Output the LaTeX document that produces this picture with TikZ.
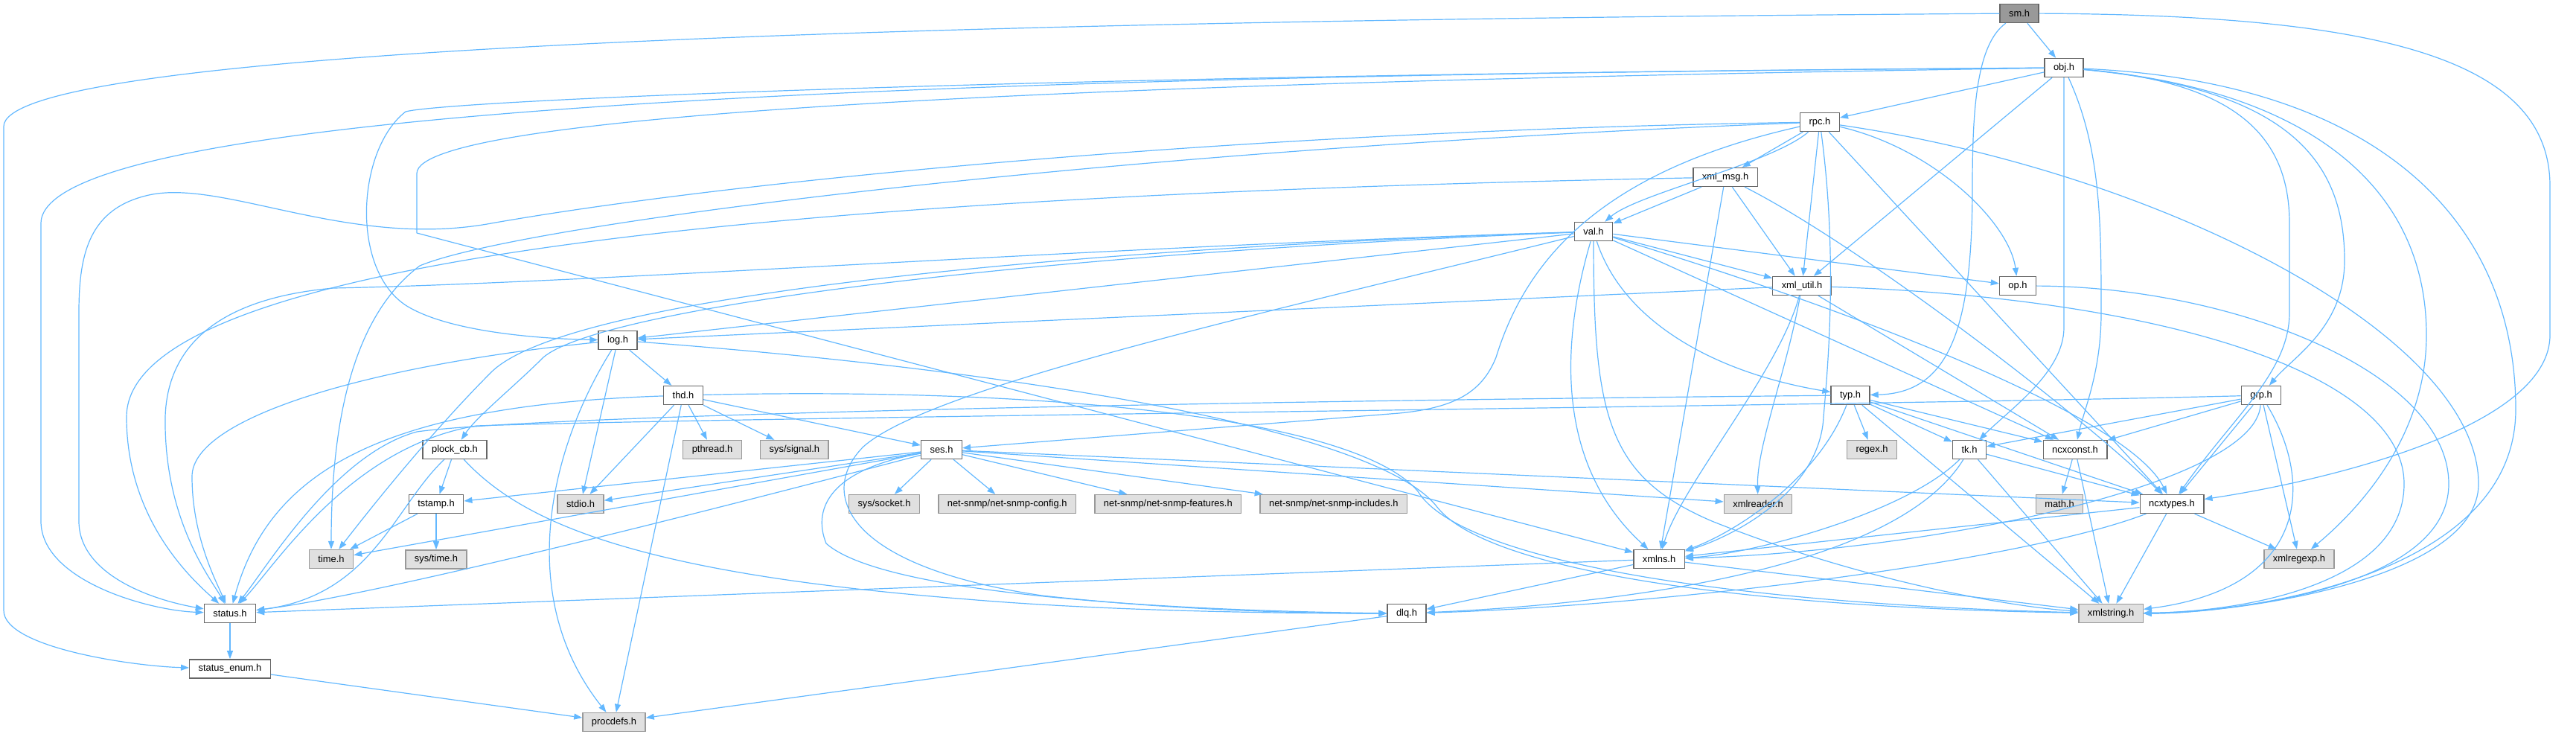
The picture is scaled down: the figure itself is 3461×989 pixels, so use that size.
\documentclass[tikz,border=0pt]{standalone}
\usepackage{fontspec}
\setmainfont{Liberation Sans}
\usepackage{tikz}
\usetikzlibrary{arrows.meta, positioning}
\usepackage{xcolor}
\definecolor{EdgeBlue}{HTML}{63B8FF}
\definecolor{BoxBorder}{HTML}{666666}
\definecolor{SysBorder}{HTML}{999999}
\definecolor{SysFill}{HTML}{E0E0E0}
\definecolor{RootFill}{HTML}{999999}
\newcommand{\graphfont}{\fontsize{12.9}{15}\selectfont}
\tikzset{%
  file_block/.style={%
    rectangle,%
    draw=BoxBorder,%
    fill=white,%
    line width=1.4pt,%
    minimum height=25pt,%
    inner xsep=12pt,%
    inner ysep=0pt,%
    font=\graphfont,%
  },
  sys_block/.style={%
    file_block,%
    draw=SysBorder,%
    fill=SysFill,%
  },
  root_block/.style={%
    file_block,%
    fill=RootFill,%
  },
  dep_path/.style={%
    color=EdgeBlue,%
    line width=1.2pt,%
    line join=round,%
  },
  arrow/.style={-{Triangle[length=11pt, width=8pt]}},
}
\begin{document}
\begin{tikzpicture}[x=1pt, y=1pt]
  \useasboundingbox (0,0) rectangle (3461,-989);

  \node [root_block] (sm) at (2713,-18) {sm.h};
  \node [file_block] (obj) at (2773,-91) {obj.h};
  \node [file_block] (rpc) at (2445,-164) {rpc.h};
  \node [file_block] (xml_msg) at (2318,-238) {xml\_msg.h};
  \node [file_block] (val) at (2141,-311) {val.h};
  \node [file_block] (xml_util) at (2421,-384) {xml\_util.h};
  \node [file_block] (op) at (2711,-384) {op.h};
  \node [file_block] (log) at (830,-457) {log.h};
  \node [file_block] (thd) at (918,-531) {thd.h};
  \node [file_block] (typ) at (2486,-531) {typ.h};
  \node [file_block] (grp) at (3038,-531) {grp.h};
  \node [file_block] (plock_cb) at (611,-604) {plock\_cb.h};
  \node [sys_block] (pthread) at (957,-604) {pthread.h};
  \node [sys_block, right = 24 of pthread] (sys_signal) {sys/signal.h};
  \node [file_block] (ses) at (1265,-604) {ses.h};
  \node [sys_block] (regex) at (2515,-604) {regex.h};
  \node [file_block] (tk) at (2646,-604) {tk.h};
  \node [file_block] (ncxconst) at (2788,-604) {ncxconst.h};
  \node [file_block] (tstamp) at (586,-677) {tstamp.h};
  \node [sys_block] (stdio) at (780,-677) {stdio.h};
  \node [sys_block] (sys_socket) at (1188,-677) {sys/socket.h};
  \node [sys_block, right = 24 of sys_socket] (snmp_config) {net-snmp/net-snmp-config.h};
  \node [sys_block, right = 24 of snmp_config] (snmp_features) {net-snmp/net-snmp-features.h};
  \node [sys_block, right = 24 of snmp_features] (snmp_includes) {net-snmp/net-snmp-includes.h};
  \node [sys_block] (xmlreader) at (2362,-677) {xmlreader.h};
  \node [sys_block] (math) at (2767,-677) {math.h};
  \node [file_block] (ncxtypes) at (2918,-677) {ncxtypes.h};
  \node [sys_block] (time) at (445,-751) {time.h};
  \node [sys_block, below = 48 of tstamp] (sys_time) {sys/time.h};
  \node [file_block] (xmlns) at (2229,-751) {xmlns.h};
  \node [sys_block] (xmlregexp) at (3089,-751) {xmlregexp.h};
  \node [file_block] (status) at (309,-824) {status.h};
  \node [file_block] (dlq) at (1890,-824) {dlq.h};
  \node [sys_block] (xmlstring) at (2836,-824) {xmlstring.h};
  \node [file_block, below = 48 of status] (status_enum) {status\_enum.h};
  \node [sys_block] (procdefs) at (825,-970) {procdefs.h};

  % sm.h
  \draw [arrow, dep_path] (sm) -- (obj);
  \draw [arrow, dep_path]
    (sm) .. controls (900,-30) and (5,-80) .. (5,-170)
    -- (5,-820) .. controls (5,-870) and (180,-895) .. (status_enum);
  \draw [arrow, dep_path]
    (sm) .. controls (3200,-20) and (3426,-80) .. (3426,-250)
    -- (3426,-450) .. controls (3426,-580) and (3100,-650) .. (ncxtypes);
  \draw [arrow, dep_path]
    (sm) .. controls (2655,-60) and (2650,-150) .. (2650,-250)
    .. controls (2650,-440) and (2620,-528) .. (typ);

  % obj.h
  \draw [arrow, dep_path] (obj) -- (rpc);
  \draw [arrow, dep_path] (obj) -- (xml_util);
  \draw [arrow, dep_path]
    (obj) .. controls (2773,-250) and (2773,-430) .. (2773,-440)
    .. controls (2773,-500) and (2700,-550) .. (tk);
  \draw [arrow, dep_path]
    (obj) .. controls (2823,-200) and (2823,-300) .. (2823,-420)
    .. controls (2823,-500) and (2800,-550) .. (ncxconst);
  \draw [arrow, dep_path]
    (obj) .. controls (3000,-110) and (3076,-180) .. (3076,-300)
    -- (3076,-420) .. controls (3076,-500) and (3000,-560) .. (ncxtypes);
  \draw [arrow, dep_path]
    (obj) .. controls (3080,-120) and (3150,-220) .. (3150,-350)
    .. controls (3150,-440) and (3080,-480) .. (grp);
  \draw [arrow, dep_path]
    (obj) .. controls (3100,-120) and (3260,-250) .. (3260,-450)
    .. controls (3260,-600) and (3150,-700) .. (xmlregexp);
  \draw [arrow, dep_path]
    (obj) .. controls (3200,-110) and (3380,-300) .. (3380,-550)
    .. controls (3380,-780) and (3000,-824) .. (xmlstring);
  \draw [arrow, dep_path]
    (obj) .. controls (1500,-100) and (55,-130) .. (55,-300)
    -- (55,-700) .. controls (55,-780) and (200,-820) .. (status);
  \draw [arrow, dep_path]
    (obj) .. controls (1400,-100) and (600,-135) .. (545,-150)
    .. controls (480,-200) and (470,-360) .. (545,-410)
    .. controls (600,-445) and (720,-455) .. (log);
  \draw [arrow, dep_path]
    (obj) .. controls (1500,-110) and (560,-150) .. (560,-233)
    -- (560,-313) -- (xmlns);

  % rpc.h
  \draw [arrow, dep_path] (rpc) -- (xml_msg);
  \draw [arrow, dep_path] (rpc) -- (xml_util);
  \draw [arrow, dep_path] (rpc) -- (ncxtypes);
  \draw [arrow, dep_path] (rpc) .. controls (2380,-220) and (2200,-260) .. (val);
  \draw [arrow, dep_path] (rpc) .. controls (2600,-200) and (2700,-300) .. (op);
  \draw [arrow, dep_path]
    (rpc) .. controls (2470,-350) and (2455,-500) .. (2450,-560)
    .. controls (2445,-660) and (2330,-720) .. (xmlns);
  \draw [arrow, dep_path]
    (rpc) .. controls (2900,-230) and (3330,-450) .. (3330,-650)
    .. controls (3330,-780) and (3000,-824) .. (xmlstring);
  \draw [arrow, dep_path]
    (rpc) .. controls (1700,-175) and (1000,-240) .. (660,-300)
    .. controls (470,-335) and (300,-240) .. (200,-262)
    .. controls (120,-280) and (106,-340) .. (106,-420)
    -- (106,-700) .. controls (106,-770) and (200,-805) .. (status);
  \draw [arrow, dep_path]
    (rpc) .. controls (1500,-200) and (700,-300) .. (564,-357)
    .. controls (480,-420) and (445,-550) .. (time);
  \draw [arrow, dep_path]
    (rpc) .. controls (2150,-230) and (2050,-350) .. (2010,-480)
    .. controls (1990,-530) and (1950,-548) .. (1880,-555) -- (ses);

  % xml_msg.h
  \draw [arrow, dep_path] (xml_msg) -- (val);
  \draw [arrow, dep_path] (xml_msg) -- (xml_util);
  \draw [arrow, dep_path] (xml_msg) -- (xmlns);
  \draw [arrow, dep_path] (xml_msg) .. controls (2500,-330) and (2800,-560) .. (ncxtypes);
  \draw [arrow, dep_path]
    (xml_msg) .. controls (1200,-260) and (170,-330) .. (170,-560)
    .. controls (170,-700) and (260,-780) .. (status);

  % val.h
  \draw [arrow, dep_path] (val) -- (xml_util);
  \draw [arrow, dep_path] (val) -- (op);
  \draw [arrow, dep_path] (val) -- (log);
  \draw [arrow, dep_path] (val) -- (ncxconst);
  \draw [arrow, dep_path] (val) .. controls (2500,-420) and (2860,-560) .. (ncxtypes);
  \draw [arrow, dep_path] (val) .. controls (2180,-430) and (2300,-500) .. (typ);
  \draw [arrow, dep_path] (val) .. controls (2100,-450) and (2085,-620) .. (xmlns);
  \draw [arrow, dep_path]
    (val) .. controls (2141,-560) and (2160,-640) .. (2300,-700)
    .. controls (2500,-780) and (2700,-815) .. (xmlstring);
  \draw [arrow, dep_path]
    (val) .. controls (1500,-330) and (800,-380) .. (448,-387)
    .. controls (300,-400) and (225,-460) .. (222,-560)
    .. controls (220,-700) and (285,-780) .. (status);
  \draw [arrow, dep_path]
    (val) .. controls (1400,-335) and (760,-400) .. (660,-500)
    .. controls (580,-580) and (500,-680) .. (time);
  \draw [arrow, dep_path]
    (val) .. controls (1300,-345) and (800,-420) .. (730,-480)
    .. controls (690,-520) and (640,-560) .. (plock_cb);
  \draw [arrow, dep_path]
    (val) .. controls (1700,-420) and (1250,-520) .. (1160,-600)
    .. controls (1100,-660) and (1130,-760) .. (1400,-800)
    .. controls (1600,-822) and (1780,-824) .. (dlq);

  % xml_util.h
  \draw [arrow, dep_path] (xml_util) -- (log);
  \draw [arrow, dep_path] (xml_util) -- (ncxconst);
  \draw [arrow, dep_path] (xml_util) .. controls (2400,-500) and (2360,-600) .. (xmlreader);
  \draw [arrow, dep_path] (xml_util) .. controls (2390,-500) and (2260,-650) .. (xmlns);
  \draw [arrow, dep_path]
    (xml_util) .. controls (2900,-400) and (3230,-500) .. (3230,-650)
    .. controls (3230,-790) and (3000,-822) .. (xmlstring);

  % op.h
  \draw [arrow, dep_path]
    (op) .. controls (3000,-385) and (3290,-500) .. (3290,-650)
    .. controls (3290,-790) and (3000,-822) .. (xmlstring);

  % log.h
  \draw [arrow, dep_path] (log) -- (thd);
  \draw [arrow, dep_path] (log) -- (stdio);
  \draw [arrow, dep_path] (log) .. controls (740,-600) and (690,-800) .. (procdefs);
  \draw [arrow, dep_path]
    (log) .. controls (500,-490) and (258,-560) .. (258,-640)
    .. controls (258,-720) and (290,-780) .. (status);
  \draw [arrow, dep_path]
    (log) .. controls (1400,-500) and (1850,-580) .. (1930,-680)
    .. controls (1990,-760) and (2300,-815) .. (xmlstring);

  % thd.h
  \draw [arrow, dep_path] (thd) -- (pthread);
  \draw [arrow, dep_path] (thd) -- (sys_signal);
  \draw [arrow, dep_path] (thd) -- (ses);
  \draw [arrow, dep_path] (thd) -- (stdio);
  \draw [arrow, dep_path] (thd) -- (procdefs);
  \draw [arrow, dep_path] (thd) .. controls (500,-545) and (360,-640) .. (status);
  \draw [arrow, dep_path]
    (thd) .. controls (1400,-520) and (1820,-560) .. (1905,-660)
    .. controls (1960,-750) and (2300,-810) .. (xmlstring);

  % typ.h
  \draw [arrow, dep_path] (typ) -- (regex);
  \draw [arrow, dep_path] (typ) -- (tk);
  \draw [arrow, dep_path] (typ) -- (ncxconst);
  \draw [arrow, dep_path] (typ) -- (ncxtypes);
  \draw [arrow, dep_path] (typ) -- (xmlstring);
  \draw [arrow, dep_path] (typ) .. controls (2440,-650) and (2320,-720) .. (xmlns);
  \draw [arrow, dep_path]
    (typ) .. controls (1500,-540) and (700,-560) .. (560,-580)
    .. controls (450,-610) and (360,-760) .. (status);

  % grp.h
  \draw [arrow, dep_path] (grp) -- (tk);
  \draw [arrow, dep_path] (grp) -- (ncxconst);
  \draw [arrow, dep_path] (grp) -- (ncxtypes);
  \draw [arrow, dep_path] (grp) -- (xmlregexp);
  \draw [arrow, dep_path] (grp) .. controls (3110,-650) and (3100,-790) .. (xmlstring);
  \draw [arrow, dep_path] (grp) .. controls (3030,-650) and (2600,-740) .. (xmlns);
  \draw [arrow, dep_path]
    (grp) .. controls (2500,-545) and (1000,-560) .. (640,-572)
    .. controls (470,-600) and (370,-760) .. (status);

  % plock_cb.h
  \draw [arrow, dep_path] (plock_cb) -- (tstamp);
  \draw [arrow, dep_path] (plock_cb) .. controls (530,-680) and (500,-800) .. (status);
  \draw [arrow, dep_path]
    (plock_cb) .. controls (700,-700) and (850,-770) .. (1300,-805)
    .. controls (1500,-822) and (1750,-824) .. (dlq);

  % ses.h
  \draw [arrow, dep_path] (ses) -- (tstamp);
  \draw [arrow, dep_path] (ses) -- (stdio);
  \draw [arrow, dep_path] (ses) -- (time);
  \draw [arrow, dep_path] (ses) -- (sys_socket);
  \draw [arrow, dep_path] (ses) -- (snmp_config);
  \draw [arrow, dep_path] (ses) -- (snmp_features);
  \draw [arrow, dep_path] (ses) -- (snmp_includes);
  \draw [arrow, dep_path] (ses) -- (xmlreader);
  \draw [arrow, dep_path] (ses) -- (ncxtypes);
  \draw [arrow, dep_path] (ses) .. controls (900,-700) and (500,-800) .. (status);
  \draw [arrow, dep_path]
    (ses) .. controls (1120,-630) and (1090,-680) .. (1110,-730)
    .. controls (1200,-810) and (1700,-822) .. (dlq);

  % tstamp.h
  \draw [arrow, dep_path] (tstamp) -- (time);
  \draw [arrow, dep_path] (tstamp) -- (sys_time);

  % tk.h, ncxconst.h, ncxtypes.h
  \draw [arrow, dep_path] (tk) -- (ncxtypes);
  \draw [arrow, dep_path] (tk) -- (xmlstring);
  \draw [arrow, dep_path] (tk) .. controls (2560,-690) and (2350,-745) .. (xmlns);
  \draw [arrow, dep_path] (tk) .. controls (2550,-760) and (2200,-810) .. (dlq);
  \draw [arrow, dep_path] (ncxconst) -- (math);
  \draw [arrow, dep_path] (ncxconst) -- (xmlstring);
  \draw [arrow, dep_path] (ncxtypes) -- (xmlregexp);
  \draw [arrow, dep_path] (ncxtypes) -- (xmlns);
  \draw [arrow, dep_path] (ncxtypes) -- (xmlstring);
  \draw [arrow, dep_path] (ncxtypes) .. controls (2700,-760) and (2200,-815) .. (dlq);

  % xmlns.h and the bottom rows
  \draw [arrow, dep_path] (xmlns) -- (status);
  \draw [arrow, dep_path] (xmlns) -- (dlq);
  \draw [arrow, dep_path] (xmlns) -- (xmlstring);
  \draw [arrow, dep_path] (status) -- (status_enum);
  \draw [arrow, dep_path] (status_enum) -- (procdefs);
  \draw [arrow, dep_path] (dlq) -- (procdefs);
\end{tikzpicture}
\end{document}
